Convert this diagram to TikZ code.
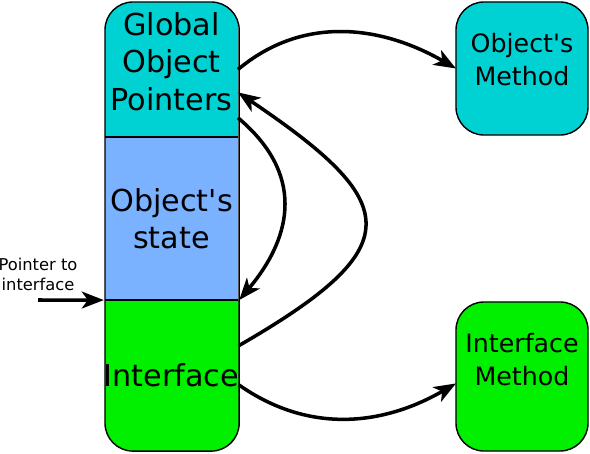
\documentclass[tikz,border=0pt]{standalone}
\usepackage{fontspec}
\setmainfont{DejaVu Sans}
\usetikzlibrary{positioning,arrows.meta,backgrounds}

\definecolor{pointercyan}{RGB}{0,210,212}
\definecolor{stateblue}{RGB}{122,178,255}
\definecolor{ifacegreen}{RGB}{0,240,0}

\tikzset{
part/.style={minimum width=3.325cm, inner sep=0pt, outer sep=0pt, align=center,
  font=\fontsize{21.5}{26.7}\selectfont},
methodbox/.style={draw, line width=1pt, rounded corners=0.7cm, minimum width=3.3cm,
  inner sep=0pt, outer sep=0pt},
methodtext/.style={align=center, inner sep=0pt, font=\fontsize{18}{23.5}\selectfont},
link/.style={line width=2.5pt, -{Stealth[length=0.55cm, width=0.42cm, inset=0.15cm]}}
}

\begin{document}
\begin{tikzpicture}[x=0.025cm, y=0.025cm]

\useasboundingbox (0,0) rectangle (590,-453);

% Objet
\node[part, minimum height=3.375cm] (gop) at (171.5,-69.5)
{Global\\Object\\Pointers\\[-15pt]};
\node[part, minimum height=4.075cm, below=0pt of gop] (state)
{Object\textquotesingle s\\state};
\node[part, minimum height=3.775cm, below=0pt of state] (iface)
{Interface};

\begin{scope}[on background layer]
\clip[rounded corners=0.7cm] (gop.north west) rectangle (iface.south east);
\fill[pointercyan] (gop.north west) rectangle (gop.south east);
\fill[stateblue] (state.north west) rectangle (state.south east);
\fill[ifacegreen] (iface.north west) rectangle (iface.south east);
\end{scope}

\draw[line width=1pt, rounded corners=0.7cm] (gop.north west) rectangle (iface.south east);
\draw[line width=1pt] (gop.south west) -- (gop.south east)
(state.south west) -- (state.south east);

% Methodes
\node[methodbox, fill=pointercyan, minimum height=3.325cm] (om) at (522,-68.5) {};
\node[methodtext] (omtext) at (522,-60) {Object\textquotesingle s\\Method};

\node[methodbox, fill=ifacegreen, minimum height=3.725cm] (im) at (522,-376.5) {};
\node[methodtext] (imtext) at (522,-360) {Interface\\Method};

% Pointeur
\node[align=center, inner sep=0pt, font=\fontsize{11.6}{14.2}\selectfont] (ptr) at (38,-274)
{Pointer to\\interface};
\coordinate (ptrstart) at (38,-300);

% Liens
\draw[link] (ptrstart) -- (iface.north west);
\draw[link] (gop.east) to[out=40, in=150] (om.west);
\draw[link] (iface.24) to[out=30, in=-34, looseness=2] (gop.-19);
\draw[link] (gop.-36) to[out=-40, in=50, looseness=1.2] (iface.north east);
\draw[link] (iface.-8) to[out=-35, in=-150] (im.186);

\end{tikzpicture}
\end{document}
